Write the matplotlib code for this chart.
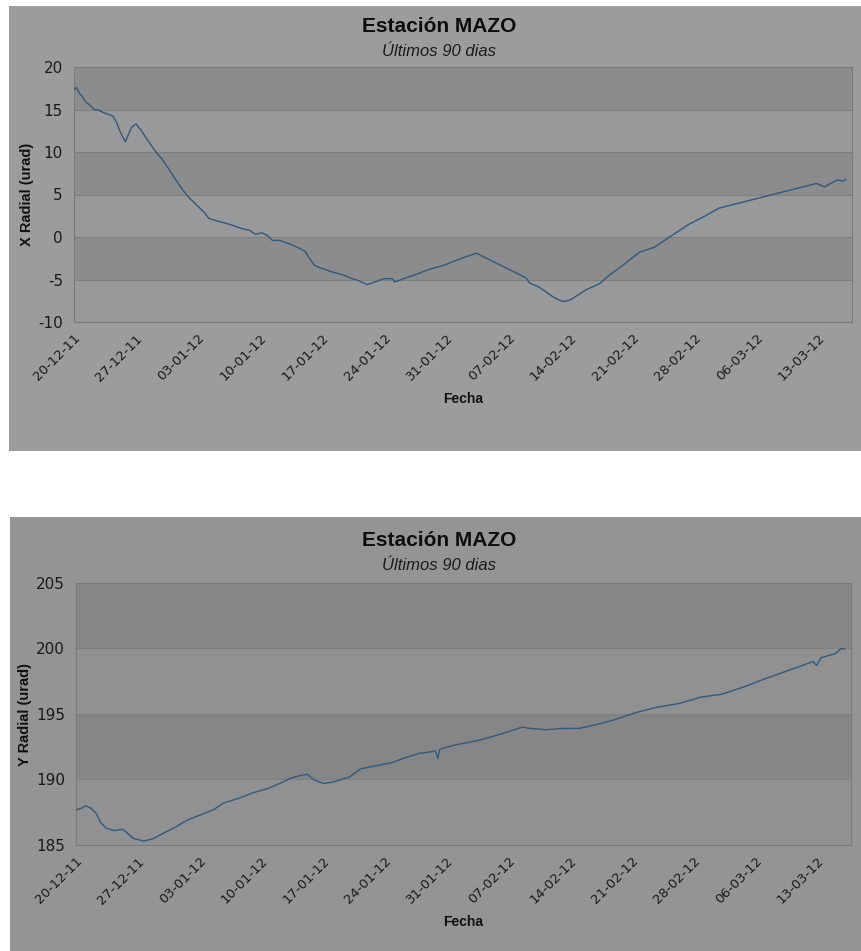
import datetime as dt
import matplotlib
matplotlib.use("Agg")
import matplotlib.pyplot as plt
from matplotlib.patches import Rectangle
from matplotlib.transforms import ScaledTranslation

plt.rcParams["axes.unicode_minus"] = False

# days since 20-12-2011 and tilt values
inicio = dt.datetime(2011, 12, 20)

dias_x = [0.1, 0.3, 0.6, 0.9, 1.3, 1.7, 2.3, 2.8, 3.4, 4.0, 4.4, 4.8, 5.2,
          5.8, 6.2, 6.5, 7.0, 7.6, 8.5, 9.1, 9.9, 10.7, 11.5, 12.3, 13.0,
          13.5, 14.1, 14.7, 15.2, 16.1, 17.2, 18.1, 18.9, 19.8, 20.5, 21.2,
          21.8, 22.4, 23.2, 24.3, 25.4, 26.1, 26.5, 27.1, 27.7, 29.1, 30.5,
          31.1, 32.0, 33.1, 33.9, 35.0, 35.9, 36.2, 37.2, 38.6, 40.1, 41.8,
          43.5, 45.4, 51.0, 51.4, 52.5, 54.0, 54.7, 55.3, 56.0, 57.8, 59.3,
          60.4, 62.1, 63.8, 65.5, 67.5, 69.4, 71.1, 72.8, 83.8, 84.7, 85.4,
          86.1, 86.8, 87.1]
x_radial = [17.4, 17.6, 16.9, 16.6, 15.9, 15.6, 15.0, 14.9, 14.6, 14.4, 14.2,
            13.5, 12.4, 11.2, 12.2, 12.9, 13.3, 12.5, 11.1, 10.2, 9.2, 8.0,
            6.7, 5.5, 4.6, 4.1, 3.5, 2.9, 2.2, 1.9, 1.6, 1.3, 1.0, 0.8, 0.3,
            0.5, 0.2, -0.4, -0.4, -0.8, -1.3, -1.7, -2.4, -3.3, -3.6, -4.1,
            -4.5, -4.8, -5.1, -5.6, -5.3, -4.9, -4.9, -5.3, -4.9, -4.4, -3.8,
            -3.3, -2.6, -1.9, -4.8, -5.4, -5.9, -7.0, -7.4, -7.6, -7.4, -6.2,
            -5.5, -4.5, -3.2, -1.8, -1.2, 0.2, 1.5, 2.4, 3.4, 6.3, 5.9, 6.3,
            6.7, 6.6, 6.8]

dias_y = [0.1, 0.6, 1.1, 1.7, 2.3, 2.8, 3.4, 4.3, 5.3, 6.0, 6.5, 7.7, 8.8,
          9.9, 11.1, 12.6, 14.1, 15.6, 16.7, 18.6, 20.1, 21.7, 23.1, 24.3,
          25.4, 26.2, 26.9, 28.0, 29.1, 31.0, 32.2, 33.6, 35.9, 37.0, 38.9,
          40.1, 40.7, 41.0, 41.2, 42.7, 45.7, 48.3, 50.6, 51.4, 53.3, 55.1,
          57.0, 59.0, 61.2, 63.4, 65.7, 68.3, 70.9, 73.1, 75.8, 77.7, 83.5,
          83.9, 84.4, 86.0, 86.7, 87.1]
y_radial = [187.7, 187.8, 188.0, 187.8, 187.4, 186.7, 186.3, 186.1, 186.2,
            185.8, 185.5, 185.3, 185.5, 185.9, 186.3, 186.9, 187.3, 187.7,
            188.2, 188.6, 189.0, 189.3, 189.7, 190.1, 190.3, 190.4, 190.0,
            189.7, 189.8, 190.2, 190.8, 191.0, 191.3, 191.6, 192.0, 192.1,
            192.2, 191.6, 192.3, 192.6, 193.0, 193.5, 194.0, 193.9, 193.8,
            193.9, 193.9, 194.2, 194.6, 195.1, 195.5, 195.8, 196.3, 196.5,
            197.1, 197.6, 199.0, 198.7, 199.3, 199.6, 200.0, 199.95]

fechas_ticks = ["20-12-11", "27-12-11", "03-01-12", "10-01-12", "17-01-12",
                "24-01-12", "31-01-12", "07-02-12", "14-02-12", "21-02-12",
                "28-02-12", "06-03-12", "13-03-12"]

titulo = "Estación MAZO"
subtitulo = "Últimos 90 dias"

W, H = 861, 951
fig = plt.figure(figsize=(W / 100, H / 100), dpi=100)
fig.patch.set_facecolor("white")

line_color = "#2d5a82"


def px_axes(x0, y0, x1, y1):
    return fig.add_axes([x0 / W, 1 - y1 / H, (x1 - x0) / W, (y1 - y0) / H])


def panel(box, plot_box, dias, vals, ylim, ylabel, bg, light, dark, title_y):
    x0, y0, x1, y1 = box
    fig.patches.append(Rectangle((x0 / W, 1 - y1 / H), (x1 - x0) / W, (y1 - y0) / H,
                                 transform=fig.transFigure, facecolor=bg,
                                 edgecolor="none", zorder=-10))
    ax = px_axes(*plot_box)
    ax.set_facecolor(light)
    lo, hi = ylim
    k = 0
    for top in range(hi, lo, -5):
        if k % 2 == 0:
            ax.axhspan(top - 5, top, color=dark, lw=0, zorder=0)
        k += 1
    fechas = [inicio + dt.timedelta(days=d) for d in dias]
    ax.plot(fechas, vals, color=line_color, lw=1.0, zorder=3)
    ax.set_ylim(lo, hi)
    ax.set_yticks(range(lo, hi + 1, 5))
    ax.yaxis.grid(True, color="#7f7f7f", lw=0.8, zorder=1)
    ax.set_axisbelow(True)
    ax.set_xlim(inicio, inicio + dt.timedelta(days=87.8))
    ticks = [dt.datetime.strptime(t, "%d-%m-%y") for t in fechas_ticks]
    ax.set_xticks(ticks)
    ax.set_xticklabels(fechas_ticks, rotation=45, ha="right",
                       rotation_mode="anchor", fontsize=9.5, color="#1a1a1a")
    shift = ScaledTranslation(-0.07, 0, fig.dpi_scale_trans)
    for lbl in ax.get_xticklabels():
        lbl.set_transform(lbl.get_transform() + shift)
    ax.tick_params(axis="x", length=0, pad=7)
    ax.tick_params(axis="y", length=0, labelsize=11, labelcolor="#1a1a1a", pad=8)
    for s in ax.spines.values():
        s.set_color("#7a7a7a")
        s.set_linewidth(0.8)
    ax.set_ylabel(ylabel, fontsize=10.5, fontweight="bold", family="Liberation Sans",
                  color="#111111", labelpad=3)
    ax.set_xlabel("Fecha", fontsize=10, fontweight="bold", family="Liberation Sans",
                  color="#111111", labelpad=6)
    cx = 439 / W
    fig.text(cx, 1 - title_y / H, titulo, ha="center", va="center",
             fontsize=15, fontweight="bold", family="Liberation Sans", color="#0d0d0d")
    fig.text(cx, 1 - (title_y + 25) / H, subtitulo, ha="center", va="center",
             fontsize=12, style="italic", family="Liberation Sans", color="#1a1a1a")
    return ax


ax1 = panel((9, 6, 861, 451), (74, 67, 852, 322), dias_x, x_radial, (-10, 20),
            "X Radial (urad)", "#9c9c9c", "#999999", "#8c8c8c", 27)
ax2 = panel((10, 517, 861, 951), (76, 583, 851, 845), dias_y, y_radial, (185, 205),
            "Y Radial (urad)", "#949494", "#919191", "#868686", 541)

fig.savefig("out.png", dpi=100)
